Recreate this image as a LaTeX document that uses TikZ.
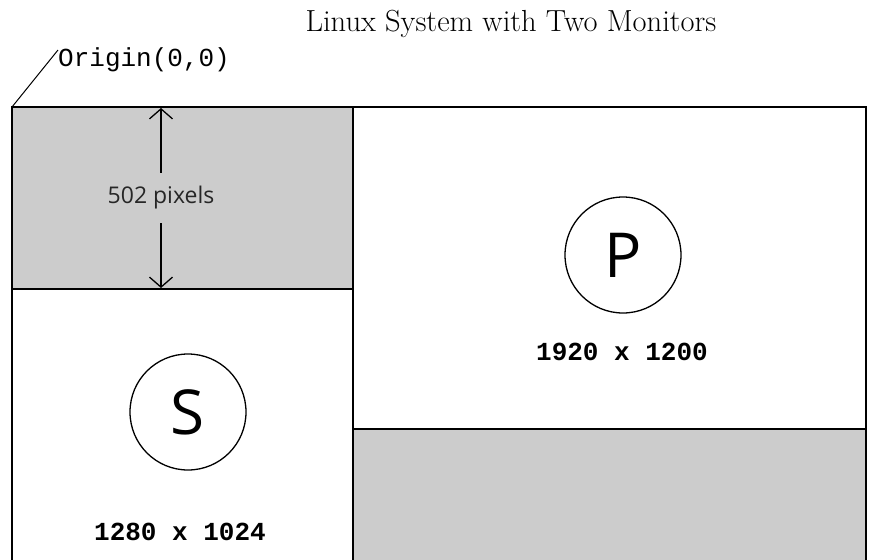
\documentclass[tikz,border=0pt]{standalone}
\usepackage{fontspec}
\newfontfamily\monofont{Liberation Mono}
\newfontfamily\opensans{Open Sans}
\usetikzlibrary{arrows.meta}
\definecolor{panelgray}{HTML}{CCCCCC}
\begin{document}
\begin{tikzpicture}[x=1pt,y=-1pt,
  border/.style={line width=1.8pt, black},
  monitor/.style={circle, draw, line width=1.3pt, minimum size=116pt, inner sep=0pt, font=\opensans\fontsize{62}{62}\selectfont},
  reslabel/.style={font=\monofont\bfseries\fontsize{26}{26}\selectfont, inner sep=0pt},
  dimarrow/.style={line width=1.3pt, -{Straight Barb[length=10pt,width=23pt,line width=1.3pt]}}]
\useasboundingbox (0,0) rectangle (871,560);
\fill[white] (0,0) rectangle (871,560);
\fill[panelgray] (12,107) rectangle (353,289);
\fill[panelgray] (353,429) rectangle (866,560);
\draw[border] (12,560) -- (12,107) -- (866,107) -- (866,560);
\draw[border] (353,107) -- (353,560);
\draw[border] (12,289) -- (353,289);
\draw[border] (353,429) -- (866,429);
% title and origin
\node[font=\fontsize{30.5}{30.5}\selectfont, inner sep=0pt] (title) at (511,24) {Linux System with Two Monitors};
\node[font=\monofont\fontsize{26}{26}\selectfont, anchor=west, inner sep=0pt] (orig) at (58,60) {Origin(0,0)};
\coordinate (origin) at (12,107);
\coordinate (lead) at (58,50);
\draw[line width=1pt] (origin) -- (lead);
% dimension arrow
\coordinate (atop) at (161,108);
\coordinate (abot) at (161,288);
\node[font=\opensans\fontsize{23}{23}\selectfont, text=black!85, minimum height=50pt, inner sep=0pt] (dim) at (161,198) {502 pixels};
\draw[dimarrow] (dim.north) -- (atop);
\draw[dimarrow] (dim.south) -- (abot);
% monitors
\node[monitor] (S) at (188,412) {S};
\node[monitor] (P) at (623,255) {P};
\node[reslabel] (Sres) at (180,532) {1280 x 1024};
\node[reslabel] (Pres) at (622,352) {1920 x 1200};
\end{tikzpicture}
\end{document}
